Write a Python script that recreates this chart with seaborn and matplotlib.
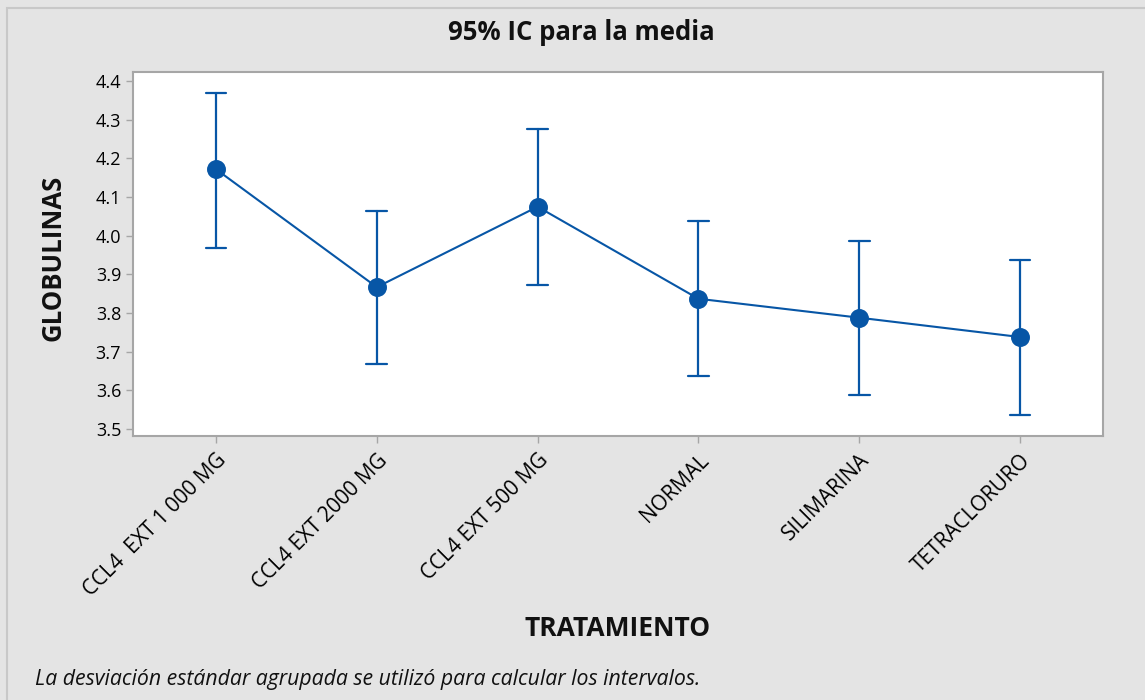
import numpy as np
import pandas as pd
import seaborn as sns
import matplotlib.pyplot as plt
from matplotlib.patches import Rectangle

# data (95% CI for the mean)
tratamientos = ["CCL4  EXT 1 000 MG", "CCL4 EXT 2000 MG", "CCL4 EXT 500 MG",
                "NORMAL", "SILIMARINA", "TETRACLORURO"]
medias = [4.172, 3.867, 4.075, 3.837, 3.788, 3.738]
ic_inf = [3.967, 3.667, 3.873, 3.636, 3.588, 3.536]
ic_sup = [4.369, 4.065, 4.276, 4.039, 3.987, 3.937]
y_ticks = [3.5, 3.6, 3.7, 3.8, 3.9, 4.0, 4.1, 4.2, 4.3, 4.4]

# long form: lower, mean, upper per group -> median gives the mean, min/max gives the CI
df = pd.DataFrame({
    "TRATAMIENTO": tratamientos * 3,
    "GLOBULINAS": ic_inf + medias + ic_sup,
})

sns.set_theme(style="white")
plt.rcParams["font.family"] = ["Open Sans", "DejaVu Sans"]

azul = "#0756a6"
gris_fondo = "#e4e4e4"

fig = plt.figure(figsize=(11.45, 7), dpi=100, facecolor=gris_fondo)
ax = fig.add_axes([133 / 1145, 1 - 436 / 700, (1103 - 133) / 1145, (436 - 72) / 700])

sns.pointplot(
    data=df, x="TRATAMIENTO", y="GLOBULINAS", order=tratamientos,
    estimator=np.median, errorbar=lambda v: (v.min(), v.max()),
    color=azul, capsize=0.13, markersize=12.5, linewidth=1.5,
    err_kws={"linewidth": 1.6}, ax=ax,
)

ax.set_xlim(-0.516, 5.516)
ax.set_ylim(3.482, 4.4235)
ax.set_yticks(y_ticks)
ax.set_yticklabels([f"{t:.1f}" for t in y_ticks])
ax.set_facecolor("white")
for s in ax.spines.values():
    s.set_color("#a6a6a6")
    s.set_linewidth(1.5)
ax.tick_params(axis="both", which="both", length=5, width=1, color="#a6a6a6",
               labelcolor="#000000", direction="out", bottom=True, left=True)
ax.tick_params(axis="y", labelsize=13)
ax.tick_params(axis="x", labelsize=15, pad=5)
plt.setp(ax.get_xticklabels(), rotation=45, ha="right", rotation_mode="anchor")

ax.set_xlabel("TRATAMIENTO", fontsize=19, fontweight="bold", va="center", color="#111111")
ax.xaxis.set_label_coords(0.5, (436 - 628) / 364)
ax.set_ylabel("GLOBULINAS", fontsize=18.5, fontweight="bold", va="center", color="#111111")
ax.yaxis.set_label_coords((53 - 133) / 970, 0.49)

fig.text(0.508, 0.953, "95% IC para la media", ha="center", va="center",
         fontsize=18.5, fontweight="bold", color="#111111")
fig.text(35 / 1145, 1 - 680 / 700,
         "La desviación estándar agrupada se utilizó para calcular los intervalos.",
         ha="left", va="center", fontsize=15.3, style="italic", color="#111111")

# thin frame line on the left/top edge like the reference
fig.patches.append(Rectangle((7 / 1145, -0.01), 1.2, 1 - 8 / 700 + 0.01,
                             transform=fig.transFigure, fill=False,
                             edgecolor="#c8c8c8", linewidth=1.5))

fig.savefig("out.png", dpi=100, facecolor=gris_fondo)
